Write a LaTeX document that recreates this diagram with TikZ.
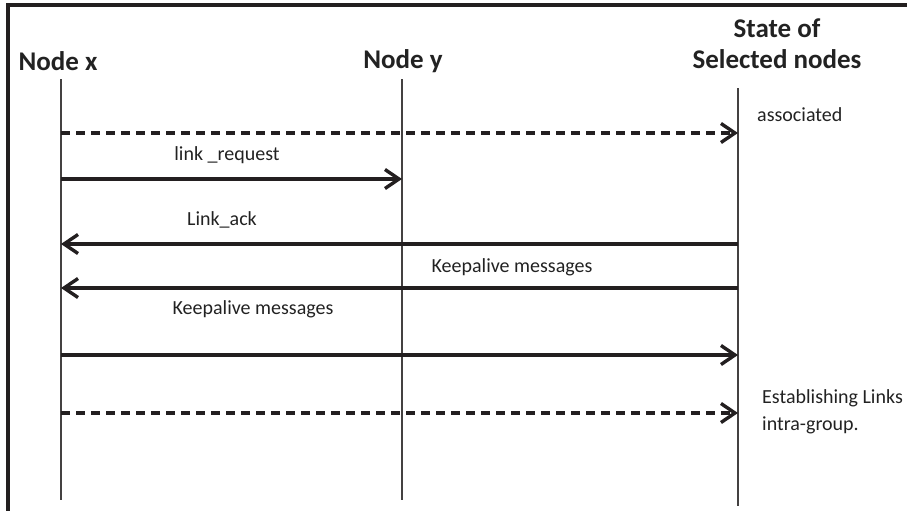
\documentclass[tikz,border=0pt]{standalone}
\usepackage{fontspec}
\setmainfont{Carlito}
\usetikzlibrary{arrows.meta}
\definecolor{ink}{HTML}{231F20}
\definecolor{txt}{HTML}{222222}
\begin{document}
\begin{tikzpicture}[x=1pt,y=-1pt,
  heading/.style={font=\fontsize{27}{31}\selectfont\bfseries,text=txt,inner sep=0pt,align=center},
  label/.style={font=\fontsize{20}{27}\selectfont,text=txt,inner sep=0pt,align=left},
  lifeline/.style={draw=ink!85,line width=1.3pt},
  msg/.style={draw=ink,line width=3.4pt,-{Straight Barb[length=14pt,width=19pt,line width=3.4pt]}},
  async/.style={msg,dash pattern=on 9pt off 6pt}]
\useasboundingbox (0,0) rectangle (907,511);
% frame (top and left edges)
\draw[line width=3.2pt,ink] (907,5) -- (8,5) -- (8,511);

% headings
\node[heading] (hx) at (58,61) {Node x};
\node[heading] (hy) at (403,61) {Node y};
\node[heading] (hs) at (777,44) {State of\\Selected nodes};

% lifelines
\coordinate (xt) at (61,79);  \coordinate (xb) at (61,500);
\coordinate (yt) at (402,79); \coordinate (yb) at (402,500);
\coordinate (st) at (738,88); \coordinate (sb) at (738,506);
\draw[lifeline] (xt) -- (xb);
\draw[lifeline] (yt) -- (yb);
\draw[lifeline] (st) -- (sb);

% message anchors on the lifelines
\coordinate (x1) at (61,133);  \coordinate (s1) at (738,133);
\coordinate (x2) at (61,179);  \coordinate (y2) at (402,179);
\coordinate (x3) at (61,244);  \coordinate (s3) at (738,244);
\coordinate (x4) at (61,288);  \coordinate (s4) at (738,288);
\coordinate (x5) at (61,355);  \coordinate (s5) at (738,355);
\coordinate (x6) at (61,413);  \coordinate (s6) at (738,413);

% messages
\draw[async] (x1) -- (s1);
\draw[msg] (x2) -- (y2);
\draw[msg] (s3) -- (x3);
\draw[msg] (s4) -- (x4);
\draw[msg] (x5) -- (s5);
\draw[async] (x6) -- (s6);

% labels
\node[label] (lreq) at (227,155) {link \_request};
\node[label] (lack) at (222,220) {Link\_ack};
\node[label] (lka1) at (512,267) {Keepalive messages};
\node[label] (lka2) at (253,309) {Keepalive messages};
\node[label,anchor=west] (lassoc) at (757,115) {associated};
\node[label,anchor=north west] (lest) at (762,389) {Establishing Links\\intra-group.};
\end{tikzpicture}
\end{document}
